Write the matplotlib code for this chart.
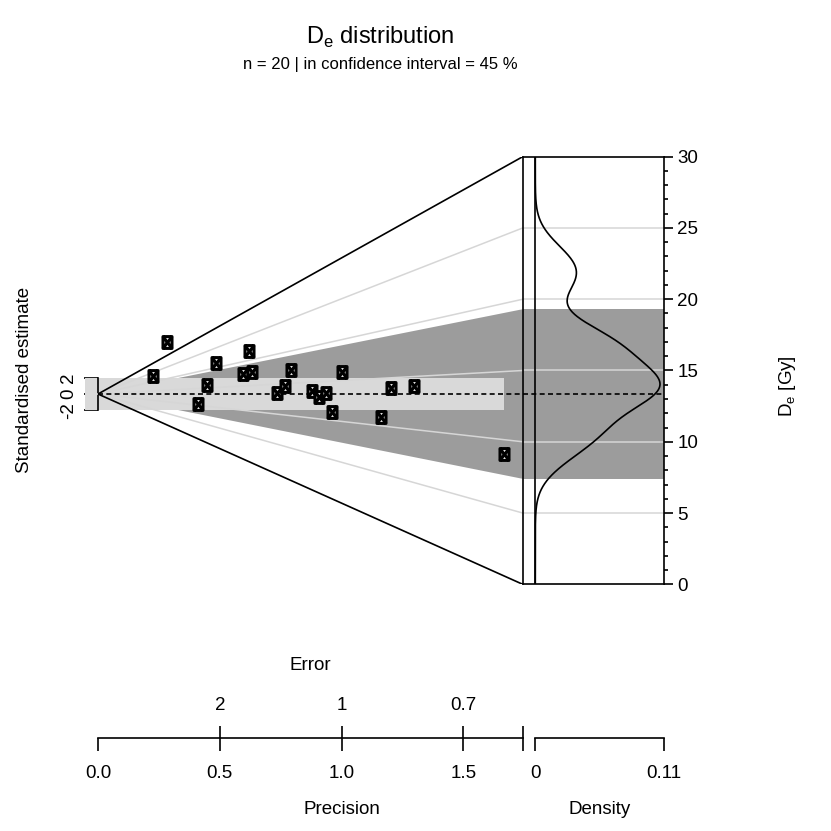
import numpy as np
import matplotlib.pyplot as plt
from matplotlib.path import Path
from matplotlib.patches import Polygon, Rectangle
from matplotlib.ticker import MultipleLocator

plt.rcParams['font.family'] = ['Liberation Sans', 'DejaVu Sans']
plt.rcParams['mathtext.fontset'] = 'custom'
plt.rcParams['mathtext.rm'] = 'Liberation Sans'

# equivalent doses (Gy) and their standard errors
de = [23.05, 35.82, 10.38, 15.82, 21.10, 17.39, 21.81, 17.54, 13.47, 14.66,
      17.04, 13.81, 12.95, 13.44, 11.09, 16.06, 10.89, 13.93, 14.11, 8.96]
de_err = [4.41, 3.52, 2.43, 2.24, 2.06, 1.68, 1.61, 1.58, 1.36, 1.30,
          1.26, 1.14, 1.10, 1.07, 1.04, 1.00, 0.86, 0.83, 0.77, 0.60]
central_value = 13.35
polygon_range = [7.4, 19.3]
de_lim = [0, 30]
de_grid = [5, 10, 15, 20, 25]
de_ticks = [0, 5, 10, 15, 20, 25, 30]
prec_max = 1.7435
prec_ticks = [0.0, 0.5, 1.0, 1.5]
prec_labels = ['0.0', '0.5', '1.0', '1.5']
error_labels = ['2', '1', '0.7']
dens_ticks = [0, 0.11]
dens_labels = ['0', '0.11']
bandwidth = 1.5

DARK = '#9c9c9c'
LIGHT = '#d9d9d9'
GRID = '#d6d6d6'
LW = 1.2
FS = 13.5

de = np.array(de)
prec = 1 / np.array(de_err)
z = (de - central_value) * prec
in_ci = np.mean(np.abs(z) <= 2) * 100

W = H = 831
fig = plt.figure(figsize=(8.31, 8.31), dpi=100)


def box(x0, y0, x1, y1):
    return [x0 / W, 1 - y1 / H, (x1 - x0) / W, (y1 - y0) / H]


# radial part ------------------------------------------------------------
x_lo = -13 / 243.6
ax = fig.add_axes(box(85, 156.7, 522.7, 584.3))
ax.set_xlim(x_lo, prec_max)
ax.set_ylim((de_lim[0] - central_value) * prec_max, (de_lim[1] - central_value) * prec_max)
ax.patch.set_visible(False)

pmin = prec.min()
lo, hi = polygon_range
ax.add_patch(Polygon([[pmin, (lo - central_value) * pmin], [prec_max, (lo - central_value) * prec_max],
                      [prec_max, (hi - central_value) * prec_max], [pmin, (hi - central_value) * pmin]],
                     fc=DARK, ec='none', zorder=1))
ax.add_patch(Rectangle((x_lo, -2), prec.max() - x_lo, 4, fc=LIGHT, ec='none', zorder=2))
for d in de_grid:
    ax.plot([0, prec_max], [0, (d - central_value) * prec_max], color=GRID, lw=1.1, zorder=3)
for d in de_lim:
    ax.plot([0, prec_max], [0, (d - central_value) * prec_max], color='black', lw=LW, zorder=4,
            solid_capstyle='butt')
ax.plot([0, prec_max], [0, 0], color='black', lw=LW, ls=(0, (3, 2)), zorder=4)

mk = Path([(-0.38, -0.5), (0.38, -0.5), (0.38, 0.5), (-0.38, 0.5), (-0.38, -0.5),
           (-0.38, -0.5), (0.38, 0.5), (-0.38, 0.5), (0.38, -0.5)],
          [Path.MOVETO, Path.LINETO, Path.LINETO, Path.LINETO, Path.CLOSEPOLY,
           Path.MOVETO, Path.LINETO, Path.MOVETO, Path.LINETO])
ax.plot(prec, z, ls='none', marker=mk, ms=8.5, mfc='white', mec='black', mew=2.2, zorder=6)

for s in ['top', 'right', 'bottom']:
    ax.spines[s].set_visible(False)
ax.spines['left'].set_position(('data', 0))
ax.spines['left'].set_bounds(-2, 2)
ax.spines['left'].set_linewidth(LW)
ax.set_xticks([])
ax.set_yticks([-2, 0, 2], labels=['-2', '0', '2'])
ax.tick_params(axis='y', length=10, width=LW, labelsize=FS, labelrotation=90, pad=5)
for t in ax.get_yticklabels():
    t.set_verticalalignment('center')

# density panel ----------------------------------------------------------
dens_lo = -0.11 * (535.3 - 522.7) / (664 - 535.3)
axd = fig.add_axes(box(522.7, 156.7, 664, 584.3))
axd.set_xlim(dens_lo, dens_ticks[-1])
axd.set_ylim(*de_lim)
axd.axhspan(lo, hi, color=DARK, lw=0, zorder=1)
for d in de_grid:
    axd.axhline(d, color=GRID, lw=1.1, zorder=2)
axd.axhline(central_value, color='black', lw=LW, ls=(0, (3, 2)), zorder=3)
axd.axvline(0, color='black', lw=LW, zorder=3)

yy = np.linspace(de_lim[0], de_lim[1], 600)
kde = np.exp(-0.5 * ((yy[:, None] - de[None, :]) / bandwidth) ** 2).sum(axis=1)
kde /= len(de) * bandwidth * np.sqrt(2 * np.pi)
axd.plot(kde, yy, color='black', lw=LW, zorder=4)

for s in axd.spines.values():
    s.set_linewidth(LW)
axd.set_xticks([])
axd.yaxis.tick_right()
axd.set_yticks(de_ticks)
axd.yaxis.set_minor_locator(MultipleLocator(1))
axd.tick_params(axis='y', which='major', length=6.7, width=LW, labelsize=FS, pad=3)
axd.tick_params(axis='y', which='minor', length=3, width=LW)

# precision / error axis -------------------------------------------------
axp = fig.add_axes([85 / W, 1 - 737.7 / H, 437.7 / W, 1e-4])
axp.set_xlim(x_lo, prec_max)
axp.patch.set_visible(False)
for s in ['top', 'left', 'right']:
    axp.spines[s].set_visible(False)
axp.spines['bottom'].set_bounds(0, prec_max)
axp.spines['bottom'].set_linewidth(LW)
axp.set_yticks([])
axp.set_xticks(prec_ticks + [prec_max], labels=prec_labels + [''])
axp.tick_params(axis='x', length=9, width=LW, labelsize=FS, pad=11)
sec = axp.secondary_xaxis('top')
sec.spines['top'].set_visible(False)
sec.set_xticks(prec_ticks[1:] + [prec_max], labels=error_labels + [''])
sec.tick_params(axis='x', length=9, width=LW, labelsize=FS, pad=8)

axdb = fig.add_axes([522.7 / W, 1 - 737.7 / H, (664 - 522.7) / W, 1e-4])
axdb.set_xlim(dens_lo, dens_ticks[-1])
axdb.patch.set_visible(False)
for s in ['top', 'left', 'right']:
    axdb.spines[s].set_visible(False)
axdb.spines['bottom'].set_bounds(dens_ticks[0], dens_ticks[-1])
axdb.spines['bottom'].set_linewidth(LW)
axdb.set_yticks([])
axdb.set_xticks(dens_ticks, labels=dens_labels)
axdb.tick_params(axis='x', length=9, width=LW, labelsize=FS, pad=11)

# texts ------------------------------------------------------------------
fig.text(380 / W, 1 - 37 / H, r'D$_\mathrm{e}$ distribution', ha='center', va='center', size=17)
fig.text(380 / W, 1 - 64 / H, f'n = {len(de)} | in confidence interval = {in_ci:.0f} %',
         ha='center', va='center', size=12)
fig.text(25 / W, 1 - 380 / H, 'Standardised estimate', rotation=90, ha='center', va='center', size=FS)
fig.text(787 / W, 1 - 386 / H, r'D$_\mathrm{e}$ [Gy]', rotation=90, ha='center', va='center', size=FS)
fig.text(310 / W, 1 - 665 / H, 'Error', ha='center', va='center', size=FS)
fig.text(342 / W, 1 - 810 / H, 'Precision', ha='center', va='center', size=FS)
fig.text(600 / W, 1 - 810 / H, 'Density', ha='center', va='center', size=FS)

fig.savefig('out.png', dpi=100)
